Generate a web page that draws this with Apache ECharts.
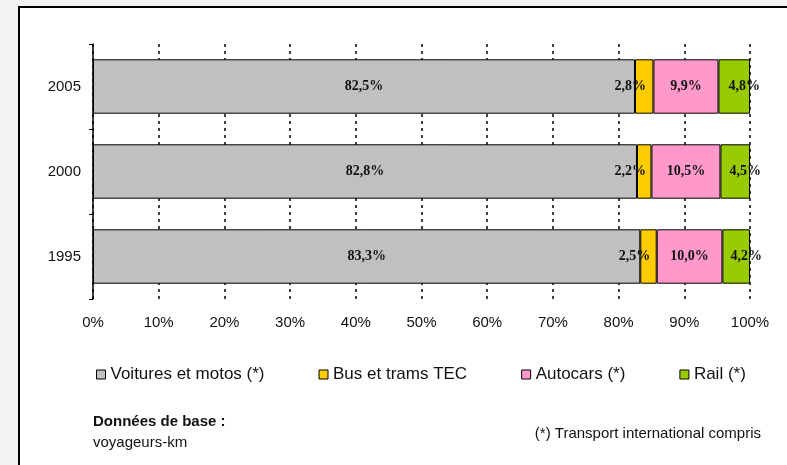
<!DOCTYPE html>
<html>
<head>
<meta charset="utf-8">
<script src="https://cdn.jsdelivr.net/npm/echarts@6/dist/echarts.min.js"></script>
<style>
  html, body { margin: 0; padding: 0; background: #f3f3f3; }
  #frame { position: absolute; left: 18px; top: 6px; width: 769px; height: 459px;
           border-left: 2px solid #000; border-top: 2px solid #000; background: #fff; }
  #chart { position: absolute; left: 0; top: 0; width: 787px; height: 465px; }
</style>
</head>
<body>
<div id="frame"></div>
<div id="chart"></div>
<script>
// Data
var years = ['1995', '2000', '2005'];
var seriesNames = ['Voitures et motos (*)', 'Bus et trams TEC', 'Autocars (*)', 'Rail (*)'];
var voitures = [83.3, 82.8, 82.5];
var bus = [2.5, 2.2, 2.8];
var autocars = [10.0, 10.5, 9.9];
var rail = [4.2, 4.5, 4.8];
var xTicks = [0, 10, 20, 30, 40, 50, 60, 70, 80, 90, 100];

var colors = ['#C0C0C0', '#FFCC00', '#FF99CC', '#99CC00'];
var labelOffsets = [[0, 0], [-14, 0], [0, 0], [10, 0]];
var values = [voitures, bus, autocars, rail];

var chart = echarts.init(document.getElementById('chart'), null, { renderer: 'canvas' });

var series = seriesNames.map(function (name, i) {
  return {
    name: name,
    type: 'bar',
    stack: 'total',
    barCategoryGap: '36%',
    data: values[i],
    itemStyle: { color: colors[i], borderColor: '#000', borderWidth: 1 },
    label: {
      show: true,
      position: 'inside',
      offset: labelOffsets[i],
      formatter: function (p) { return p.value.toFixed(1).replace('.', ',') + '%'; },
      fontFamily: 'Liberation Serif',
      fontWeight: 'bold',
      fontSize: 14,
      color: '#111'
    },
    emphasis: { disabled: true }
  };
});

chart.setOption({
  animation: false,
  backgroundColor: 'transparent',
  grid: { left: 93, right: 37, top: 44, bottom: 166, containLabel: false },
  legend: {
    data: seriesNames,
    left: 96,
    top: 366,
    padding: 0,
    itemWidth: 9,
    itemHeight: 9,
    itemGap: 54,
    icon: 'rect',
    textStyle: { fontFamily: 'Liberation Sans', fontSize: 17, color: '#111' },
    itemStyle: { borderColor: '#000', borderWidth: 1 },
    selectedMode: false
  },
  xAxis: {
    type: 'value',
    min: xTicks[0],
    max: xTicks[xTicks.length - 1],
    interval: 10,
    axisLine: { show: false },
    axisTick: { show: false },
    axisLabel: {
      margin: 16,
      fontFamily: 'Liberation Sans',
      fontSize: 15,
      color: '#111',
      formatter: function (v) { return xTicks.indexOf(v) >= 0 ? v + '%' : ''; }
    },
    splitLine: { show: true, lineStyle: { color: '#000', type: [3, 4], width: 1.5 } }
  },
  yAxis: {
    type: 'category',
    data: years,
    axisLine: { show: true, lineStyle: { color: '#000', width: 1.5 } },
    axisTick: { show: true, length: 4, lineStyle: { color: '#000' } },
    axisLabel: { margin: 12, fontFamily: 'Liberation Sans', fontSize: 15, color: '#111' },
    splitLine: { show: false }
  },
  graphic: [
    { type: 'text', left: 93, top: 414,
      style: { text: 'Données de base :', font: 'bold 15px "Liberation Sans"', fill: '#111' } },
    { type: 'text', left: 93, top: 435,
      style: { text: 'voyageurs-km', font: '15px "Liberation Sans"', fill: '#111' } },
    { type: 'text', right: 26, top: 426,
      style: { text: '(*) Transport international compris', font: '15px "Liberation Sans"', fill: '#111' } }
  ],
  series: series
});
</script>
</body>
</html>
